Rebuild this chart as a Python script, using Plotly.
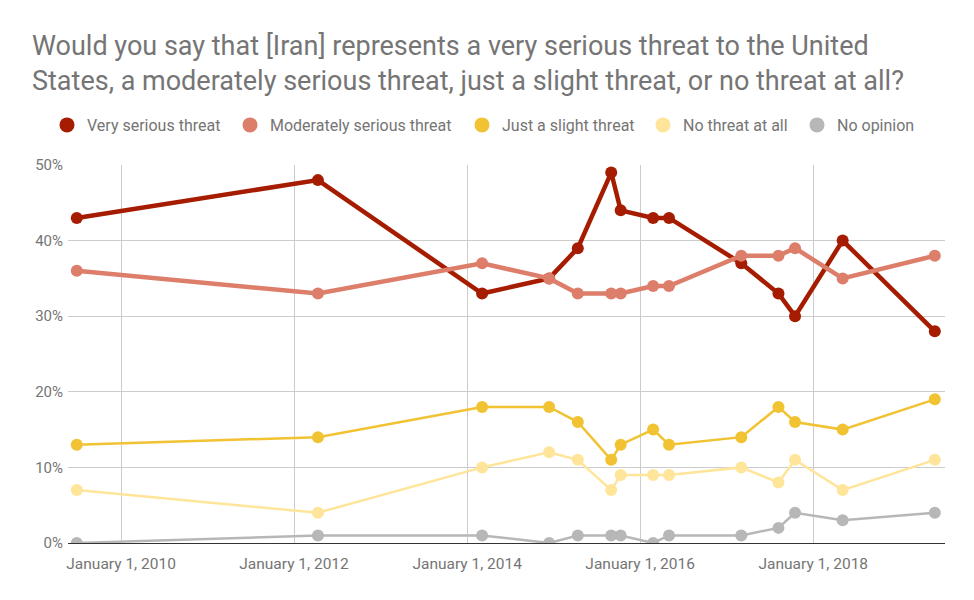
import plotly.graph_objects as go

dates = ["2009-06-28", "2012-04-11", "2014-03-05", "2014-12-13", "2015-04-13",
         "2015-09-01", "2015-10-11", "2016-02-25", "2016-05-02", "2017-03-03",
         "2017-08-07", "2017-10-16", "2018-05-05", "2019-05-29"]

very_serious = [43, 48, 33, 35, 39, 49, 44, 43, 43, 37, 33, 30, 40, 28]
moderately_serious = [36, 33, 37, 35, 33, 33, 33, 34, 34, 38, 38, 39, 35, 38]
slight = [13, 14, 18, 18, 16, 11, 13, 15, 13, 14, 18, 16, 15, 19]
no_threat = [7, 4, 10, 12, 11, 7, 9, 9, 9, 10, 8, 11, 7, 11]
no_opinion = [0, 1, 1, 0, 1, 1, 1, 0, 1, 1, 2, 4, 3, 4]

series = [
    ("Very serious threat", very_serious, "#a61c00", 4.5),
    ("Moderately serious threat", moderately_serious, "#dd7e6b", 4.5),
    ("Just a slight threat", slight, "#f1c232", 2.5),
    ("No threat at all", no_threat, "#ffe599", 2.5),
    ("No opinion", no_opinion, "#b7b7b7", 2.5),
]

# legend item start positions in pixels (google-style spacing)
legend_px = [47, 230, 462, 643, 797]

plot_l, plot_r, plot_t, plot_b = 68, 945, 165, 543
W, H = 974, 600
plot_w = plot_r - plot_l
plot_h = plot_b - plot_t

fig = go.Figure()

for name, vals, color, width in series:
    fig.add_trace(go.Scatter(
        x=dates, y=vals, mode="lines+markers", name=name,
        line=dict(color=color, width=width),
        marker=dict(color=color, size=12),
        showlegend=False,
    ))

layout_legends = {}
for i, (name, vals, color, width) in enumerate(series):
    key = "legend" if i == 0 else f"legend{i + 1}"
    fig.add_trace(go.Scatter(
        x=[None], y=[None], mode="markers", name=name,
        marker=dict(color=color, size=15),
        legend=key, showlegend=True,
    ))
    layout_legends[key] = dict(
        x=(legend_px[i] - plot_l) / plot_w,
        y=1 + (plot_t - 125) / plot_h,
        xanchor="left", yanchor="middle",
        orientation="h",
        bgcolor="rgba(0,0,0,0)",
        font=dict(family="Roboto", size=16, color="#757575"),
    )

fig.update_layout(
    width=W, height=H,
    margin=dict(l=plot_l, r=W - plot_r, t=plot_t, b=H - plot_b),
    paper_bgcolor="white", plot_bgcolor="white",
    font=dict(family="Roboto", color="#757575"),
    title=dict(
        text="Would you say that [Iran] represents a very serious threat to the United<br>"
             "States, a moderately serious threat, just a slight threat, or no threat at all?",
        x=32 / W, xref="container", xanchor="left",
        y=1 - 55 / H, yref="container", yanchor="top",
        font=dict(family="Roboto", size=27, color="#757575"),
    ),
    xaxis=dict(
        type="date",
        range=["2009-05-22", "2019-07-11"],
        tick0="2010-01-01", dtick="M24",
        tickformat="%B %-d, %Y",
        showgrid=True, gridcolor="#cccccc", gridwidth=1,
        showline=True, linecolor="#333333", linewidth=1,
        ticks="", ticklabelstandoff=6,
        tickfont=dict(family="Roboto", size=15.5, color="#757575"),
    ),
    yaxis=dict(
        range=[0, 50], dtick=10, ticksuffix="%",
        showgrid=True, gridcolor="#cccccc", gridwidth=1,
        zeroline=False, showline=False,
        ticks="", ticklabelstandoff=4,
        tickfont=dict(family="Roboto", size=15, color="#757575"),
    ),
    **layout_legends,
)

# drop the default page margin so the chart sits at the top-left corner
fig.write_html("out.html", config={"displayModeBar": False},
               post_script="document.body.style.margin='0';")
